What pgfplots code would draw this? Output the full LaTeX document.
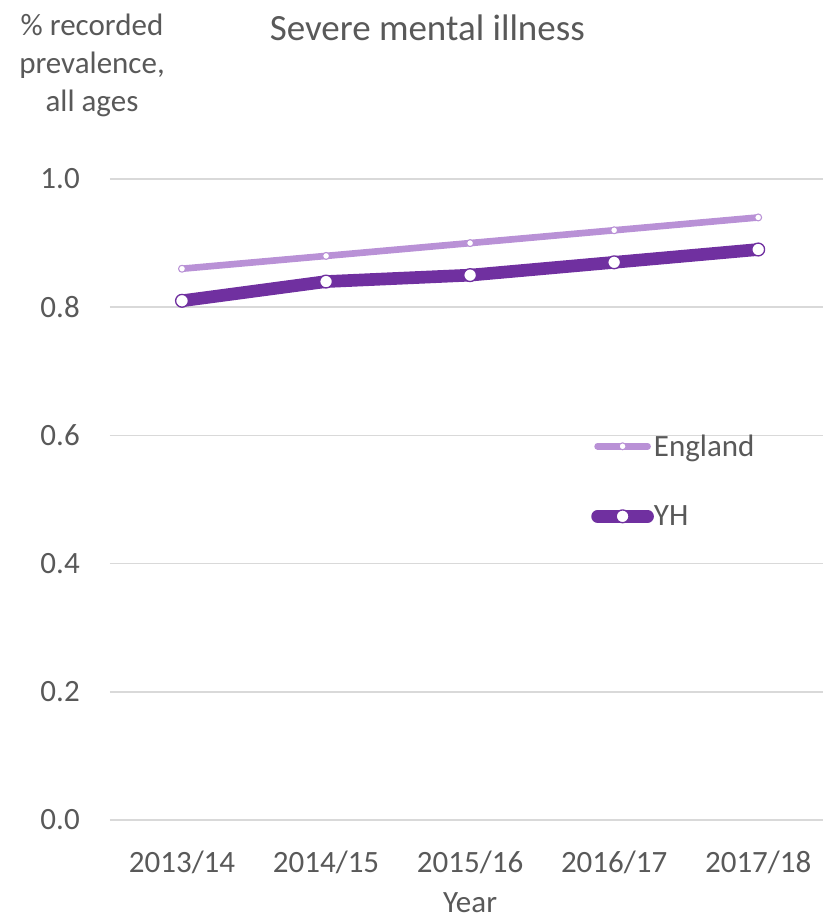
\documentclass[border=0pt]{standalone}
\usepackage{fontspec}
\setmainfont{Carlito}
\usepackage{pgfplots}
\pgfplotsset{compat=1.18}
\definecolor{eng}{RGB}{185,145,214}
\definecolor{yh}{RGB}{112,48,160}
\definecolor{txt}{RGB}{89,89,89}
\definecolor{gridc}{RGB}{217,217,217}
\begin{document}
\begin{tikzpicture}
\begin{axis}[
  scale only axis, width=534.75pt, height=480.75pt,
  xmin=-0.5, xmax=4.45, ymin=0, ymax=1,
  axis line style={draw=none},
  xtick={0,1,2,3,4},
  xticklabels={2013/14,2014/15,2015/16,2016/17,2017/18},
  ytick={0,0.2,0.4,0.6,0.8,1.0},
  ymajorgrids, grid style={gridc, line width=1.3pt},
  major tick length=0pt,
  ticklabel style={font=\fontsize{23.25}{28}\selectfont, text=txt},
  /pgf/number format/assume math mode=true,
  yticklabel={\pgfmathprintnumber[fixed, fixed zerofill, precision=1]{\tick}},
  yticklabel style={anchor=east, inner sep=0pt, xshift=-22.5pt},
  xticklabel style={anchor=center, inner sep=0pt, yshift=-31.5pt},
  title={Severe mental illness},
  title style={font=\fontsize{27.75}{30}\selectfont, text=txt, at={(0.445,1)}, anchor=center, yshift=107.5pt},
  ylabel={\% recorded\\prevalence,\\all ages},
  ylabel style={rotate=-90, at={(0,1)}, anchor=center, align=center, xshift=-13.5pt, yshift=85pt, font=\fontsize{23.25}{28.5}\selectfont, text=txt},
  xlabel={Year},
  xlabel style={at={(0.505,0)}, anchor=center, yshift=-62pt, font=\fontsize{23.25}{28}\selectfont, text=txt},
  clip=false,
  legend style={at={(0.6746,0.529)}, anchor=west, draw=none, fill=none, row sep=35.5pt,
    inner sep=0pt, font=\fontsize{23.25}{28}\selectfont, text=txt, nodes={inner sep=0pt},
    /tikz/every odd column/.append style={column sep=0pt}},
  legend cell align=left,
  legend image code/.code={\draw[mark repeat=2,mark phase=2,#1] plot coordinates {(0pt,0pt)(18.75pt,0pt)(37.5pt,0pt)};},
]
\addplot[eng, line width=5pt, line cap=round, line join=round, mark=*, mark size=2.6pt,
  mark options={fill=white, draw=eng, line width=0.8pt}]
  coordinates {(0,0.86)(1,0.88)(2,0.90)(3,0.92)(4,0.94)};
\addlegendentry{England}
\addplot[yh, line width=9.5pt, line cap=round, line join=round, mark=*, mark size=4.8pt,
  mark options={fill=white, draw=yh, line width=1pt}]
  coordinates {(0,0.81)(1,0.84)(2,0.85)(3,0.87)(4,0.89)};
\addlegendentry{YH}
\end{axis}
\pgfresetboundingbox
\path (-82.5pt,-75.75pt) rectangle (534.75pt,615pt);
\end{tikzpicture}
\end{document}
